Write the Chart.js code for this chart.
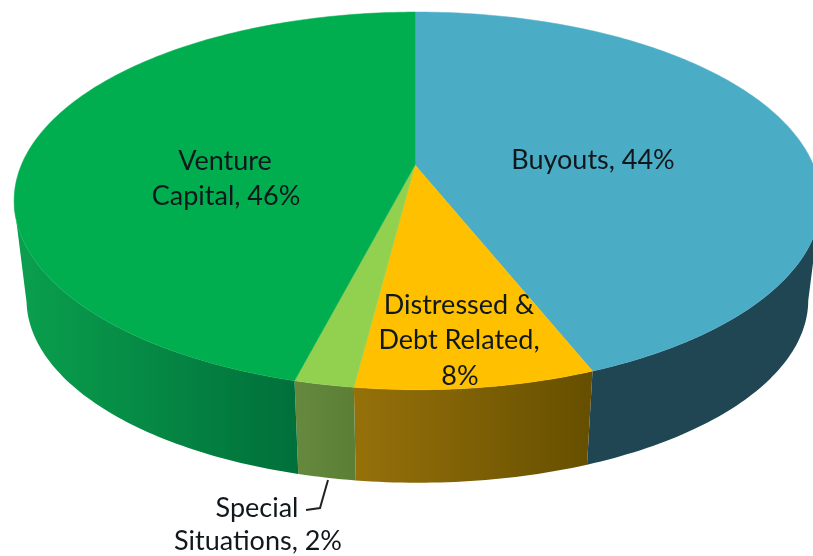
<!DOCTYPE html>
<html lang="en">
<head>
  <meta charset="UTF-8">
  <title>Private Capital by Strategy</title>
  <script src="https://cdn.jsdelivr.net/npm/chart.js"></script>
  <style>
    body { margin: 0; background: #fff; }
    canvas { display: block; }
  </style>
</head>
<body>
  <canvas id="pie" width="813" height="556"></canvas>

  <script>
    const categories = ["Buyouts", "Distressed & Debt Related", "Special Situations", "Venture Capital"];
    const shares = [44, 8, 2, 46];
    const faceColors = ["#4BACC6", "#FFC000", "#92D050", "#00AE50"];
    const wallLeft = ["#1F4652", "#96710A", "#66893E", "#0AA04E"];
    const wallRight = ["#1F4652", "#654F00", "#5A7F35", "#00703A"];

    // one entry per drawn line of text: [text, centre x, baseline y]
    const labelLines = [
      ["Venture", 225, 170],
      ["Capital, 46%", 226, 205],
      ["Buyouts, 44%", 593, 169],
      ["Distressed &", 459, 314],
      ["Debt Related,", 459, 349],
      ["8%", 460, 385],
      ["Special", 257, 517],
      ["Situations, 2%", 258, 550]
    ];

    // tilted disc: camera perspective on the unit circle
    const apex = { x: 415, y: 165 };
    const disc = { a: 396, b: 182, p: 0.19, q: -0.006, depth: 100, shrink: 0.969 };

    function project(angle, level) {
      const X = Math.cos(angle), Y = -Math.sin(angle);
      const w = 1 + disc.p * Y + disc.q * X;
      const s = level ? disc.shrink : 1;
      return {
        x: apex.x + s * disc.a * X / w,
        y: apex.y + (level ? disc.depth : 0) - s * disc.b * Y / w
      };
    }

    function arcAngles(arc) {
      const n = Math.ceil((arc.endAngle - arc.startAngle) * 60);
      const out = [];
      for (let i = 0; i <= n; i++) {
        out.push(arc.startAngle + (arc.endAngle - arc.startAngle) * i / n);
      }
      return out;
    }

    const disc3d = {
      id: "disc3d",
      beforeDatasetDraw(chart, args) {
        const ctx = chart.ctx;
        const arcs = args.meta.data;
        ctx.save();
        ctx.lineJoin = "round";

        // side walls first: only the part in front of the silhouette tangents
        arcs.forEach((arc, i) => {
          const angles = arcAngles(arc).filter(t => Math.sin(t) > disc.p);
          const top = angles.map(t => project(t, 0));
          const bottom = angles.map(t => project(t, 1)).reverse();
          const xs = top.map(p => p.x);
          const grad = ctx.createLinearGradient(Math.min(...xs), 0, Math.max(...xs), 0);
          grad.addColorStop(0, wallLeft[i]);
          grad.addColorStop(1, wallRight[i]);
          ctx.beginPath();
          top.concat(bottom).forEach((p, k) => k ? ctx.lineTo(p.x, p.y) : ctx.moveTo(p.x, p.y));
          ctx.closePath();
          ctx.fillStyle = grad;
          ctx.fill();
        });

        arcs.forEach((arc, i) => {
          ctx.beginPath();
          ctx.moveTo(apex.x, apex.y);
          arcAngles(arc).forEach(t => {
            const p = project(t, 0);
            ctx.lineTo(p.x, p.y);
          });
          ctx.closePath();
          ctx.fillStyle = faceColors[i];
          ctx.strokeStyle = faceColors[i];
          ctx.lineWidth = 0.5;
          ctx.fill();
          ctx.stroke();
        });
        ctx.restore();
        return false;
      },
      afterDatasetsDraw(chart) {
        const ctx = chart.ctx;
        ctx.save();
        ctx.font = "27px Lato";
        ctx.fillStyle = "#10181c";
        ctx.textAlign = "center";
        labelLines.forEach(([text, x, y]) => ctx.fillText(text, x, y));

        // leader for the small slice
        ctx.strokeStyle = "#222";
        ctx.lineWidth = 2;
        ctx.beginPath();
        ctx.moveTo(328, 480);
        ctx.lineTo(320, 508);
        ctx.lineTo(306, 510);
        ctx.stroke();
        ctx.restore();
      }
    };

    new Chart(document.getElementById("pie"), {
      type: "pie",
      data: {
        labels: categories,
        datasets: [{ data: shares, backgroundColor: faceColors, borderWidth: 0 }]
      },
      options: {
        responsive: false,
        animation: false,
        plugins: { legend: { display: false }, tooltip: { enabled: false } }
      },
      plugins: [disc3d]
    });
  </script>
</body>
</html>
